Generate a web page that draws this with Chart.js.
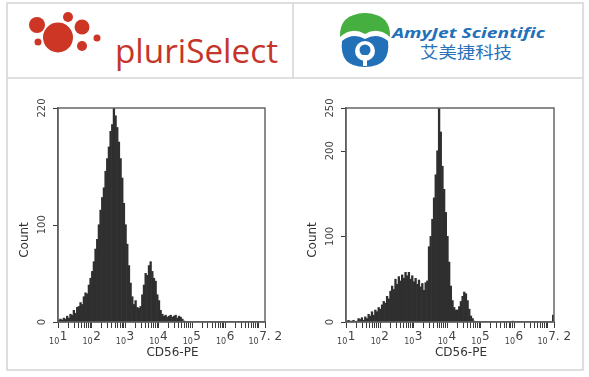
<!DOCTYPE html>
<html>
<head>
<meta charset="utf-8">
<script src="https://cdn.jsdelivr.net/npm/chart.js@4.4.1/dist/chart.umd.min.js"></script>
<style>
  html, body { margin:0; padding:0; background:#fff; }
  #wrap { position:relative; width:589px; height:377px; overflow:hidden; }
  #wrap svg, #wrap canvas { position:absolute; }
</style>
</head>
<body>
<div id="wrap">
  <svg width="589" height="377" style="left:0;top:0">
    <g stroke="#d4d4d4" stroke-width="1.5" fill="none">
      <rect x="7" y="3" width="576" height="367"/>
      <line x1="7" y1="78" x2="583" y2="78"/>
      <line x1="293" y1="3" x2="293" y2="78"/>
    </g>
    <!-- pluriSelect logo -->
    <g fill="#cd3525">
      <circle cx="58" cy="37.5" r="15"/>
      <circle cx="68" cy="17" r="5"/>
      <circle cx="37" cy="25" r="8"/>
      <circle cx="82" cy="27" r="7.5"/>
      <circle cx="38" cy="42" r="3.5"/>
      <circle cx="82" cy="46" r="5"/>
      <circle cx="97" cy="38" r="3.5"/>
    </g>
    <text x="115" y="63" font-family="Open Sans" font-size="32" fill="#c4352a" textLength="163" lengthAdjust="spacingAndGlyphs">pluriSelect</text>
    <!-- AmyJet logo -->
    <path d="M340,37 Q339,14 365,13 Q391,14 390,37 Q378,26 365,34 Q352,26 340,37 Z" fill="#45b040"/>
    <path d="M342,41 Q353,32 365,39 Q377,32 388,41 Q391,67 365,67 Q339,67 342,41 Z" fill="#2271b8"/>
    <circle cx="365" cy="51" r="10" fill="#fff"/>
    <circle cx="365" cy="50" r="5.5" fill="#2271b8"/>
    <rect x="363" y="55" width="4" height="11" fill="#fff"/>
    <text x="392" y="38" font-family="Open Sans" font-size="15" font-weight="bold" font-style="italic" fill="#2170b8" textLength="153" lengthAdjust="spacingAndGlyphs">AmyJet Scientific</text>
    <text x="420" y="58" font-family="Noto Sans CJK SC" font-size="16" fill="#2a72ba" textLength="92" lengthAdjust="spacingAndGlyphs">艾美捷科技</text>
  </svg>
  <canvas id="histA" width="284" height="288" style="left:8px;top:80px"></canvas>
  <canvas id="histB" width="286" height="288" style="left:296px;top:80px"></canvas>
</div>
<script>
// log10 bins of 0.05 decade from 10^1 to 10^7.2
const xMin = 1, xMax = 7.2, binStep = 0.05;
const countsA = [
  2,3,2,4,3,6,4,8,7,12,
  9,15,16,20,18,26,30,29,38,45,
  52,62,75,85,100,115,128,138,155,168,
  180,196,203,220,212,200,185,168,148,122,
  100,80,58,40,26,18,22,15,14,16,
  28,38,50,48,58,62,52,45,42,28,
  22,12,8,6,7,5,6,7,5,6,
  7,4,6,5,3,1,0,0,0,0,
  0,0,0,0,0,0,0,0,0,0,
  0,0,0,0,0,0,0,0,0,0,
  0,0,0,0,0,0,0,0,0,0,
  0,0,0,0,0,0,0,0,0,0,
  0,0,0,0
];
const countsB = [
  1,2,1,1,2,0,1,4,3,5,
  2,6,4,9,7,12,8,14,12,17,
  15,20,24,22,30,27,36,42,38,50,
  44,53,48,55,51,58,54,58,50,54,
  47,51,44,49,41,45,37,46,48,88,
  100,120,145,172,200,250,222,182,155,128,
  100,70,42,25,17,14,14,18,24,30,
  35,33,25,15,7,4,1,0,0,0,
  0,0,0,0,0,0,0,0,0,0,
  0,0,0,0,0,0,0,0,0,1,
  0,0,0,0,0,0,0,0,0,0,
  0,0,0,0,0,0,0,0,0,0,
  0,0,0,8
];
const xMajor = [1, 2, 3, 4, 5, 6, 7.2];
const xExp = ['1', '2', '3', '4', '5', '6', '7. 2'];
const yTicksA = [0, 100, 220];
const yTicksB = [0, 100, 200, 250];
const xTitle = 'CD56-PE', yTitle = 'Count';

const BAR = '#2f2f2f', AXIS = '#555', FONT = '"DejaVu Sans", sans-serif';

// minor log ticks for the x axis
const xTickVals = [];
for (let d = 1; d < 7; d++) for (let k = 1; k <= 9; k++) xTickVals.push(d + Math.log10(k));
xTickVals.push(7, 7.2);

const flowAxes = {
  id: 'flowAxes',
  afterDraw(chart, args, opts) {
    const { ctx, chartArea: a, scales: { x, y } } = chart;
    ctx.save();
    // tick marks
    ctx.strokeStyle = '#3a3a3a'; ctx.lineWidth = 1;
    ctx.beginPath();
    xTickVals.forEach(v => {
      const px = Math.round(x.getPixelForValue(v)) + 0.5;
      ctx.moveTo(px, a.bottom); ctx.lineTo(px, a.bottom + 6);
    });
    opts.yTicks.forEach(v => {
      const py = Math.round(y.getPixelForValue(v)) + 0.5;
      ctx.moveTo(a.left - 5, py); ctx.lineTo(a.left, py);
    });
    ctx.stroke();

    ctx.strokeStyle = '#666'; ctx.lineWidth = 1.5;
    ctx.strokeRect(a.left, a.top, a.right - a.left, a.bottom - a.top);

    ctx.fillStyle = '#444';
    ctx.textAlign = 'left'; ctx.textBaseline = 'alphabetic';
    xMajor.forEach((v, i) => {
      const px = x.getPixelForValue(v);
      ctx.font = '8px ' + FONT; const w1 = ctx.measureText('10').width;
      ctx.font = '12px ' + FONT; const w2 = ctx.measureText(xExp[i]).width;
      const sx = px - (w1 + w2) / 2;
      ctx.font = '8px ' + FONT; ctx.fillText('10', sx, a.bottom + 22);
      ctx.font = '12px ' + FONT; ctx.fillText(xExp[i], sx + w1 + 0.5, a.bottom + 18);
    });

    ctx.font = '10px ' + FONT; ctx.textAlign = 'center'; ctx.textBaseline = 'middle';
    opts.yTicks.forEach(v => {
      ctx.save();
      ctx.translate(a.left - 16, y.getPixelForValue(v));
      ctx.rotate(-Math.PI / 2);
      ctx.fillText(String(v), 0, 0);
      ctx.restore();
    });

    ctx.fillStyle = '#333'; ctx.font = '12px ' + FONT;
    ctx.fillText(xTitle, (a.left + a.right) / 2 + 11, a.bottom + 31);
    ctx.save();
    ctx.translate(a.left - 33, (a.top + a.bottom) / 2 + 25);
    ctx.rotate(-Math.PI / 2);
    ctx.fillText(yTitle, 0, 0);
    ctx.restore();
    ctx.restore();
  }
};

function histogram(id, counts, yTicks, padRight) {
  new Chart(document.getElementById(id), {
    type: 'bar',
    data: {
      datasets: [{
        data: counts.map((c, i) => ({ x: xMin + binStep * (i + 0.5), y: c })),
        backgroundColor: BAR,
        borderWidth: 0,
        barPercentage: 1,
        categoryPercentage: 1
      }]
    },
    options: {
      responsive: false,
      animation: false,
      devicePixelRatio: 1,
      layout: { padding: { left: 0, top: 28, right: padRight, bottom: 0 } },
      plugins: { legend: { display: false }, tooltip: { enabled: false }, flowAxes: { yTicks } },
      scales: {
        x: {
          type: 'linear', min: xMin, max: xMax, offset: false, z: 1,
          grid: { offset: false, display: false },
          border: { display: true, color: AXIS, width: 1.5 },
          ticks: { display: false },
          afterFit: s => { s.height = 46; }
        },
        y: {
          min: 0, max: yTicks[yTicks.length - 1], z: 1,
          grid: { display: false },
          border: { display: true, color: AXIS, width: 1.5 },
          ticks: { display: false },
          afterFit: s => { s.width = 50; }
        }
      }
    },
    plugins: [flowAxes]
  });
}

histogram('histA', countsA, yTicksA, 27);
histogram('histB', countsB, yTicksB, 28);
</script>
</body>
</html>
